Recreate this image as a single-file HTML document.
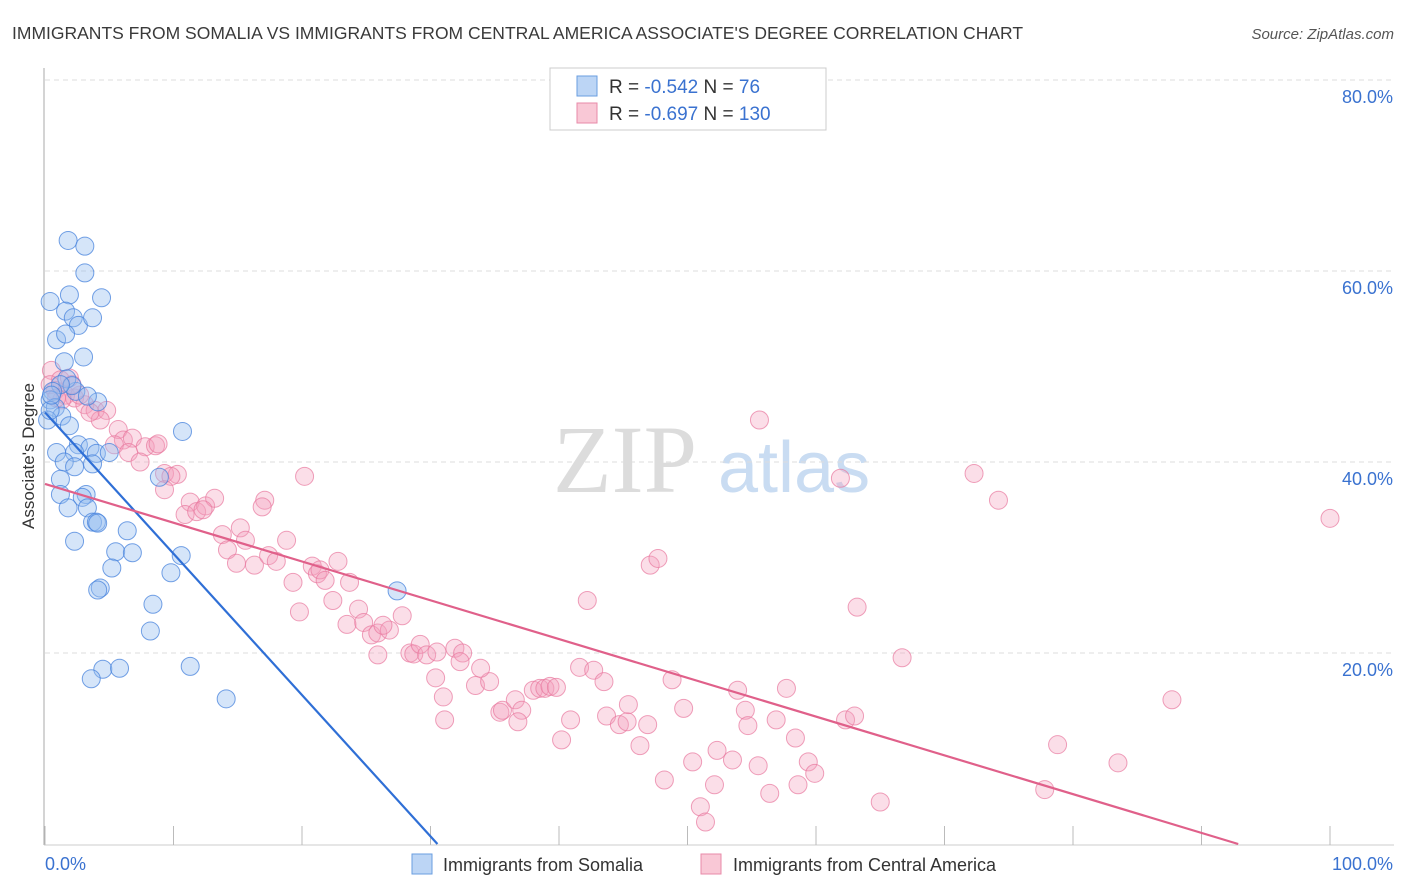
<!DOCTYPE html>
<html><head><meta charset="utf-8"><style>
body{margin:0;background:#fff;width:1406px;height:892px;overflow:hidden;font-family:"Liberation Sans",sans-serif}
svg{position:absolute;left:0;top:0}
</style></head><body>
<svg id="chart" width="1406" height="892" xmlns="http://www.w3.org/2000/svg">
<text x="12" y="39" font-size="17.5" fill="#3a3a3a" font-family="Liberation Sans, sans-serif">IMMIGRANTS FROM SOMALIA VS IMMIGRANTS FROM CENTRAL AMERICA ASSOCIATE'S DEGREE CORRELATION CHART</text>
<text x="1394" y="39" font-size="15" fill="#555" text-anchor="end" font-style="italic">Source: ZipAtlas.com</text>
<text x="553" y="492" font-size="96" fill="#dcdcdc" font-family="Liberation Serif, serif">ZIP</text>
<text x="718" y="492" font-size="72" fill="#c9dcf2">atlas</text>
<g id="grid"></g>
<g id="axes"></g>
<g id="pink"></g>
<g id="blue"></g>
<g id="trends"></g>
<text transform="translate(34,456) rotate(-90)" font-size="17" fill="#333" text-anchor="middle">Associate's Degree</text>
<g>
<rect x="550" y="68" width="276" height="62" fill="#fff" stroke="#ccc"/>
<rect x="577" y="76" width="20" height="20" fill="#bcd5f5" stroke="#6a9ee0"/>
<rect x="577" y="103" width="20" height="20" fill="#f9c8d6" stroke="#e88aa8"/>
<text x="609" y="93" font-size="19" fill="#333">R = <tspan fill="#3a72d0">-0.542</tspan>   N = <tspan fill="#3a72d0">  76</tspan></text>
<text x="609" y="120" font-size="19" fill="#333">R = <tspan fill="#3a72d0">-0.697</tspan>   N = <tspan fill="#3a72d0">130</tspan></text>
</g>
<g>
<rect x="412" y="854" width="20" height="20" fill="#bcd5f5" stroke="#6a9ee0"/>
<text x="443" y="871" font-size="18" fill="#333">Immigrants from Somalia</text>
<rect x="701" y="854" width="20" height="20" fill="#f9c8d6" stroke="#e88aa8"/>
<text x="733" y="871" font-size="18" fill="#333">Immigrants from Central America</text>
</g>
</svg>
<script>
const yTicks=[20,40,60,80];
const yTickLabels=["20.0%","40.0%","60.0%","80.0%"];
const xTicks=[0,10,20,30,40,50,60,70,80,90,100];
const xEndLabels=["0.0%","100.0%"];
const somaliaX=[1.8,3.1,3.1,0.4,1.9,4.4,1.6,2.2,2.6,3.7,0.9,1.6,3.0,1.5,2.4,1.7,2.1,1.2,0.6,0.4,0.8,4.1,3.3,1.3,1.9,10.7,2.6,3.5,4.0,2.3,0.9,1.5,2.3,3.7,5.0,1.2,1.2,3.2,2.9,1.8,3.3,3.7,4.0,4.1,6.4,2.3,5.5,6.8,5.2,10.6,9.8,4.3,4.1,8.4,8.2,11.3,4.5,5.8,3.6,14.1,27.4,8.9,0.2,0.4,0.5];
const somaliaY=[63.2,62.6,59.8,56.8,57.5,57.2,55.8,55.1,54.3,55.1,52.8,53.4,51.0,50.5,47.4,48.7,48.0,48.1,47.4,46.5,45.7,46.3,46.9,44.8,43.8,43.2,41.8,41.5,40.9,41.0,41.0,40.0,39.5,39.8,41.0,38.2,36.6,36.6,36.3,35.2,35.2,33.7,33.7,33.6,32.8,31.7,30.6,30.5,28.9,30.2,28.4,26.8,26.6,25.1,22.3,18.6,18.3,18.4,17.3,15.2,26.5,38.4,44.4,45.4,47.0];
const camX=[0.5,1.2,1.9,0.8,1.6,2.3,3.1,3.9,4.8,4.3,3.5,1.3,2.7,2.1,5.7,6.1,6.8,7.8,8.6,8.8,5.4,6.5,7.4,9.3,10.3,9.8,9.3,11.3,10.9,11.8,12.5,13.2,12.3,15.2,17.1,16.9,13.8,15.6,14.2,14.9,16.3,17.4,18.0,18.8,20.2,19.3,20.8,21.2,21.4,21.8,22.8,23.7,22.4,19.8,24.4,23.5,24.8,25.4,25.9,26.8,27.8,26.3,25.9,28.4,28.7,29.2,29.7,30.5,31.9,32.5,32.3,30.4,31.0,31.1,33.5,34.6,33.9,35.4,35.6,36.6,37.1,36.8,38.0,38.5,38.9,39.3,39.8,40.2,40.9,41.6,42.7,43.5,42.2,43.7,44.7,45.3,46.3,46.9,45.4,47.1,47.7,48.2,48.8,49.7,50.4,51.0,51.4,52.1,52.3,53.5,53.9,54.5,54.7,55.5,56.4,56.9,57.7,58.4,58.6,59.4,59.9,62.3,63.0,63.2,65.0,66.7,55.6,61.9,72.3,74.2,77.8,78.8,83.5,87.7,100.0,0.4,0.9];
const camY=[49.6,48.6,48.8,47.5,47.0,46.7,46.0,45.4,45.4,44.4,45.2,46.5,47.0,48.1,43.4,42.3,42.5,41.6,41.7,41.9,41.8,41.0,40.0,38.8,38.7,38.5,37.1,35.8,34.5,34.8,35.4,36.2,35.0,33.1,36.0,35.3,32.4,31.8,30.8,29.4,29.2,30.2,29.6,31.8,38.5,27.4,29.1,28.3,28.7,27.6,29.6,27.4,25.5,24.3,24.6,23.0,23.2,21.9,22.1,22.4,23.9,22.9,19.8,20.0,19.9,20.9,19.8,20.1,20.5,20.0,19.1,17.4,15.4,13.0,16.6,17.0,18.4,13.8,14.0,15.1,14.0,12.8,16.1,16.3,16.3,16.5,16.4,10.9,13.0,18.5,18.2,17.0,25.5,13.4,12.5,12.8,10.3,12.5,14.6,29.2,29.9,6.7,17.2,14.2,8.6,3.9,2.3,6.2,9.8,8.8,16.1,14.0,12.4,8.2,5.3,13.0,16.3,11.1,6.2,8.6,7.4,13.0,13.4,24.8,4.4,19.5,44.4,38.3,38.8,36.0,5.7,10.4,8.5,15.1,34.1,48.1,46.7];
const somaliaTrend=[45.2,-1.48];
const camTrend=[37.7,-0.406];

const NS="http://www.w3.org/2000/svg";
const X0=45,X1=1330,Y0=844,Y80=80;
function sx(v){return X0+(X1-X0)*v/100;}
function sy(v){return Y0-(Y0-Y80)*v/80;}
function mk(tag,attrs,parent){const e=document.createElementNS(NS,tag);for(const k in attrs)e.setAttribute(k,attrs[k]);parent.appendChild(e);return e;}
const grid=document.getElementById('grid'),axes=document.getElementById('axes');
yTicks.forEach((t,i)=>{
 const l=mk('line',{x1:45,x2:1394,y1:sy(t),y2:sy(t),stroke:'#ddd','stroke-dasharray':'5,4'},grid);
 
 
 const tx=mk('text',{x:1393,y:sy(t)+23,'font-size':18,fill:'#3a72d0','text-anchor':'end'},axes);
 tx.textContent=yTickLabels[i];
 
 
});
const ax=mk('line',{x1:44,x2:44,y1:68,y2:845,stroke:'#aaa'},axes);


const bx=mk('line',{x1:44,x2:1394,y1:845,y2:845,stroke:'#ccc'},axes);


xTicks.forEach(t=>{
 const l=mk('line',{x1:sx(t),x2:sx(t),y1:826,y2:845,stroke:'#bbb'},axes);
 
 
});
const xl0=mk('text',{x:45,y:870,'font-size':18,fill:'#3a72d0'},axes);xl0.textContent=xEndLabels[0];


const xl1=mk('text',{x:1393,y:870,'font-size':18,fill:'#3a72d0','text-anchor':'end'},axes);xl1.textContent=xEndLabels[1];


const pg=document.getElementById('pink');
camX.forEach((v,i)=>{
 const c=mk('circle',{cx:sx(v),cy:sy(camY[i]),r:9,fill:'rgba(244,160,188,0.35)',stroke:'rgba(232,120,158,0.7)','stroke-width':1},pg);
 
 
});
const bg=document.getElementById('blue');
somaliaX.forEach((v,i)=>{
 const c=mk('circle',{cx:sx(v),cy:sy(somaliaY[i]),r:9,fill:'rgba(150,190,240,0.4)',stroke:'rgba(70,130,220,0.75)','stroke-width':1},bg);
 
 
});
const tg=document.getElementById('trends');
function trend(p,color,name){
 const xEnd=Math.min(100,-p[0]/p[1]);
 const l=mk('line',{x1:sx(0),y1:sy(p[0]),x2:sx(xEnd),y2:sy(p[0]+p[1]*xEnd),stroke:color,'stroke-width':2.2},tg);
 
 
}
trend(somaliaTrend,'#2f6fd6','trend-line-somalia');
trend(camTrend,'#e0608a','trend-line-central-america');
</script>
</body></html>
